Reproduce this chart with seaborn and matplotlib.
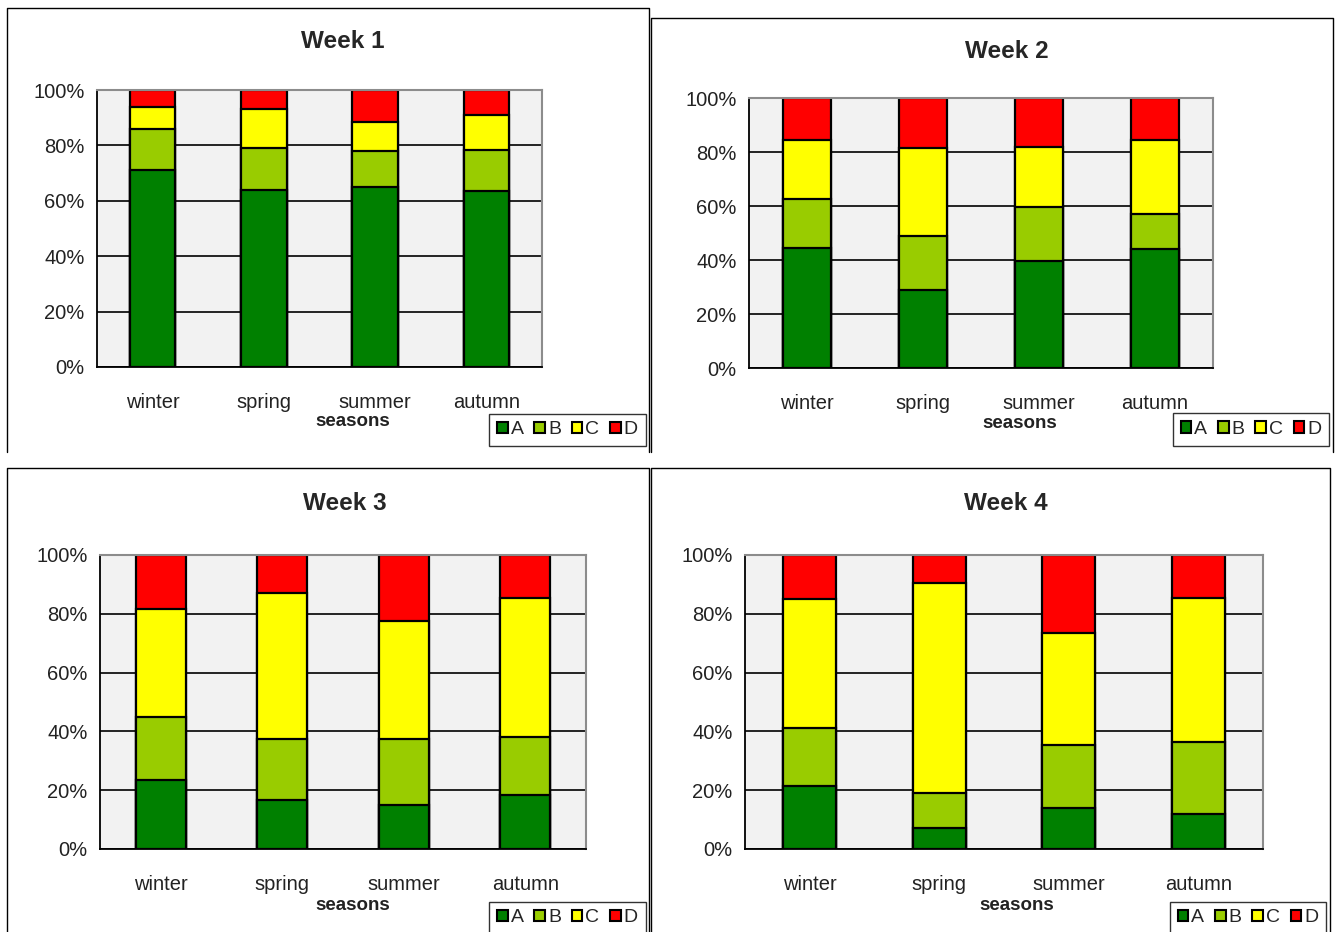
import matplotlib
matplotlib.use("Agg")
import matplotlib.pyplot as plt
from matplotlib.patches import Patch
from matplotlib.lines import Line2D
import seaborn as sns
import numpy as np

# --- data (percent shares per season, segments A..D) ---
seasons = ["winter", "spring", "summer", "autumn"]
groups = ["A", "B", "C", "D"]
colors = ["#008000", "#99cc00", "#ffff00", "#ff0000"]

week1_A = [71.0, 64.0, 65.0, 63.5]
week1_B = [15.0, 15.0, 13.0, 15.0]
week1_C = [8.0, 14.0, 10.5, 12.5]
week1_D = [6.0, 7.0, 11.5, 9.0]

week2_A = [44.5, 29.0, 39.5, 44.0]
week2_B = [18.0, 20.0, 20.0, 13.0]
week2_C = [22.0, 32.5, 22.5, 27.5]
week2_D = [15.5, 18.5, 18.0, 15.5]

week3_A = [23.5, 16.5, 15.0, 18.5]
week3_B = [21.5, 21.0, 22.5, 19.5]
week3_C = [36.5, 49.5, 40.0, 47.5]
week3_D = [18.5, 13.0, 22.5, 14.5]

week4_A = [21.5, 7.0, 14.0, 12.0]
week4_B = [19.5, 12.0, 21.5, 24.5]
week4_C = [44.0, 71.5, 38.0, 49.0]
week4_D = [15.0, 9.5, 26.5, 14.5]

titles = ["Week 1", "Week 2", "Week 3", "Week 4"]
weeks = [
    [week1_A, week1_B, week1_C, week1_D],
    [week2_A, week2_B, week2_C, week2_D],
    [week3_A, week3_B, week3_C, week3_D],
    [week4_A, week4_B, week4_C, week4_D],
]
y_ticks = [0, 20, 40, 60, 80, 100]
y_labels = ["0%", "20%", "40%", "60%", "80%", "100%"]

W, H = 1337, 932

# pixel layout: plot area (x0, y0, x1, y1), title xy, xlabel xy, legend box, frame
layout = [
    dict(plot=(97, 90, 542, 367), title=(343, 41), xlab=(353, 422),
         leg=(488, 412, 647, 448), frame=(7, 8, 649, 452)),
    dict(plot=(749, 98, 1213, 368), title=(1007, 52), xlab=(1020, 423),
         leg=(1169, 411, 1333, 448), frame=(651, 18, 1333, 452)),
    dict(plot=(100, 555, 586, 849), title=(345, 503), xlab=(353, 906),
         leg=(488, 900, 647, 936), frame=(7, 468, 649, 932)),
    dict(plot=(745, 555, 1263, 849), title=(1006, 503), xlab=(1017, 906),
         leg=(1166, 900, 1330, 936), frame=(651, 468, 1330, 932)),
]

sns.set_style("white")
plt.rcParams['font.family'] = ['Liberation Sans', 'DejaVu Sans']

fig = plt.figure(figsize=(W / 100, H / 100), dpi=100)


def fx(x):
    return x / W


def fy(y):
    return 1 - y / H


for wk, lay, title in zip(weeks, layout, titles):
    x0, y0, x1, y1 = lay["plot"]
    ax = fig.add_axes([fx(x0), fy(y1), (x1 - x0) / W, (y1 - y0) / H])
    ax.set_facecolor("#f2f2f2")

    # stacked bars: draw cumulative totals from the top segment down
    cum = np.cumsum(np.array(wk), axis=0)
    for i in range(3, -1, -1):
        sns.barplot(x=seasons, y=cum[i], color=colors[i], saturation=1,
                    width=0.41, edgecolor="black", linewidth=1.6,
                    errorbar=None, ax=ax, zorder=3)

    ax.set_xlim(-0.5, 3.5)
    ax.set_ylim(0, 100)
    ax.set_yticks(y_ticks)
    ax.set_yticklabels(y_labels, fontsize=14.5, color="#222222")
    ax.set_xticks(range(4))
    ax.set_xticklabels(seasons, fontsize=14.5, color="#222222")
    ax.set_xticks(np.arange(-0.5, 4.0, 1.0), minor=True)
    ax.tick_params(axis="x", which="major", length=0, pad=19)
    ax.tick_params(axis="x", which="minor", length=7, width=1.2,
                   color="black", direction="out")
    ax.tick_params(axis="y", length=6, width=1.2, color="black",
                   direction="out", pad=3)
    ax.set_xlabel("")
    ax.set_ylabel("")
    ax.yaxis.grid(True, color="black", linewidth=1.2)
    ax.xaxis.grid(False)
    ax.set_axisbelow(True)
    for s in ["left", "bottom"]:
        ax.spines[s].set_color("black")
        ax.spines[s].set_linewidth(1.3)
    for s in ["top", "right"]:
        ax.spines[s].set_color("#8c8c8c")
        ax.spines[s].set_linewidth(1.5)
    for sp in ax.spines.values():
        sp.set_zorder(4)

    tx, ty = lay["title"]
    fig.text(fx(tx), fy(ty), title, ha="center", va="center",
             fontsize=17.5, fontweight="bold")
    lx, ly = lay["xlab"]
    fig.text(fx(lx), fy(ly), "seasons", ha="center", va="center",
             fontsize=13.5, fontweight="bold", color="#222222")

    # legend
    bx0, by0, bx1, by1 = lay["leg"]
    handles = [Patch(facecolor=c, edgecolor="black", linewidth=1.5, label=g)
               for c, g in zip(colors, groups)]
    leg = fig.legend(handles=handles, loc="center",
                     bbox_to_anchor=(fx((bx0 + bx1) / 2), fy((by0 + by1) / 2)),
                     ncol=4, fontsize=14, handlelength=0.55, handleheight=0.55,
                     handletextpad=0.15, columnspacing=0.55, borderpad=0.4,
                     frameon=True, fancybox=False, edgecolor="black")
    leg.get_frame().set_linewidth(1.0)

    # outer chart frame (left, top, right edges)
    f0, g0, f1, g1 = lay["frame"]
    fig.add_artist(Line2D([fx(f0), fx(f0), fx(f1), fx(f1)],
                          [fy(g1), fy(g0), fy(g0), fy(g1)],
                          color="black", linewidth=1.0))

fig.savefig("out.png", dpi=100)
